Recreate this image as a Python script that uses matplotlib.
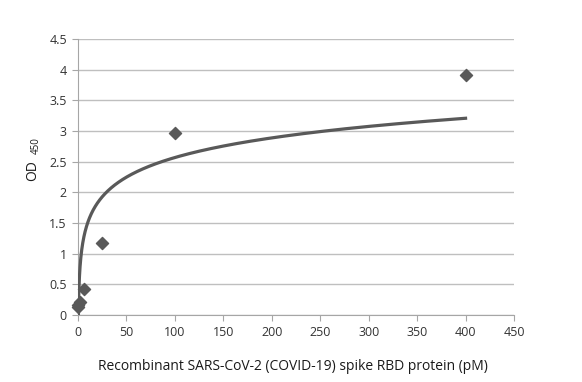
import numpy as np
import matplotlib
matplotlib.use("Agg")
import matplotlib.pyplot as plt

conc = [0.098, 0.39, 1.56, 6.25, 25, 100, 400]
od = [0.13, 0.17, 0.22, 0.43, 1.17, 2.97, 3.92]
xticks = [0, 50, 100, 150, 200, 250, 300, 350, 400, 450]
yticks = [0, 0.5, 1, 1.5, 2, 2.5, 3, 3.5, 4, 4.5]

plt.rcParams['font.family'] = ['Open Sans', 'DejaVu Sans']

fig = plt.figure(figsize=(5.82, 3.82), dpi=100)
ax = fig.add_axes([78/582, 1-315/382, (514-78)/582, (315-39)/382])

# logarithmic trendline fitted from the data
a, b = np.polyfit(np.log(conc), od, 1)
xs = np.linspace(min(conc), max(conc), 2000)
ax.plot(xs, a*np.log(xs)+b, color='#595959', lw=2.3, zorder=3, clip_on=True)
ax.scatter(conc, od, marker='D', s=38, color='#595959', zorder=4, clip_on=False)

ax.set_xlim(0, 450)
ax.set_ylim(0, 4.5)
ax.set_xticks(xticks)
ax.set_xticklabels([str(v) for v in xticks])
ax.set_yticks(yticks)
ax.set_yticklabels([('%g' % v) for v in yticks])
ax.yaxis.grid(True, color='#bfbfbf', lw=1)
ax.set_axisbelow(True)
for s in ['top', 'right']:
    ax.spines[s].set_visible(False)
for s in ['left', 'bottom']:
    ax.spines[s].set_color('#a6a6a6')
ax.tick_params(axis='x', colors='#a6a6a6', length=4, labelcolor='#333333', labelsize=9, pad=4)
ax.tick_params(axis='y', colors='#a6a6a6', length=4, labelcolor='#333333', labelsize=9, pad=4)

fig.text(0.5*(78+514)/582 - 0.006, 1-366/382, 'Recombinant SARS-CoV-2 (COVID-19) spike RBD protein (pM)',
         ha='center', va='center', fontsize=10, color='#1a1a1a')
fig.text(33/582, 1-171/382, 'OD', rotation=90, ha='center', va='center', fontsize=10, color='#1a1a1a')
fig.text(36/582, 1-146/382, '450', rotation=90, ha='center', va='center', fontsize=7, color='#1a1a1a')

fig.savefig('out.png', dpi=100)
